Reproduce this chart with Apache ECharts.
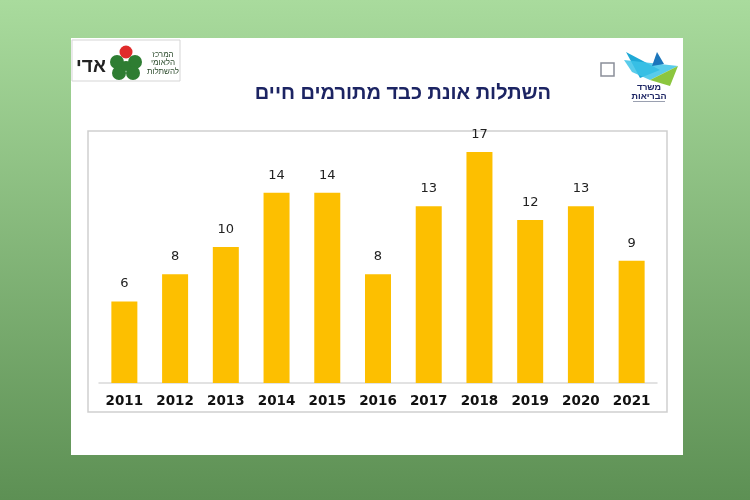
<!DOCTYPE html>
<html><head><meta charset="utf-8">
<script src="https://cdn.jsdelivr.net/npm/echarts@6/dist/echarts.min.js"></script>
<style>html,body{margin:0;padding:0;}#c{width:750px;height:500px;}</style>
</head><body><div id="c"></div>
<script>
const categories = ['2011','2012','2013','2014','2015','2016','2017','2018','2019','2020','2021'];
const values = [6, 8, 10, 14, 14, 8, 13, 17, 12, 13, 9];
const titleText = 'השתלות אונת כבד מתורמים חיים';

const chart = echarts.init(document.getElementById('c'), null, {renderer:'canvas'});
chart.setOption({
  animation: false,
  backgroundColor: new echarts.graphic.LinearGradient(0,0,0,1,[{offset:0,color:'#A9DB9D'},{offset:1,color:'#5D9054'}]),
  title: {
    text: titleText, left: 398, top: 78, textAlign: 'center',
    textStyle: {fontFamily: 'Liberation Sans', fontWeight: 'bold', fontSize: 20, color: '#1C2463'}
  },
  graphic: [
    {type:'rect', z:-10, shape:{x:71,y:38,width:612,height:417}, style:{fill:'#ffffff'}},
    {type:'rect', z:-9, shape:{x:88,y:131,width:579,height:281}, style:{fill:'none', stroke:'#CFCFCF', lineWidth:1.5}},
    // left logo
    {type:'rect', shape:{x:72,y:40,width:108,height:41}, style:{fill:'#fff', stroke:'#D5D5D5', lineWidth:1}},
    {type:'text', style:{text:'אדי', x:91, y:67, fontSize:19, fontWeight:'bold', fontFamily:'Liberation Sans', fill:'#222', textAlign:'center', textVerticalAlign:'middle'}},
    {type:'circle', shape:{cx:126,cy:52,r:6.5}, style:{fill:'#E02B2B'}},
    {type:'circle', shape:{cx:117,cy:62,r:7}, style:{fill:'#2E7D32'}},
    {type:'circle', shape:{cx:135,cy:62,r:7}, style:{fill:'#2E7D32'}},
    {type:'circle', shape:{cx:119,cy:73,r:7}, style:{fill:'#2E7D32'}},
    {type:'circle', shape:{cx:133,cy:73,r:7}, style:{fill:'#2E7D32'}},
    {type:'circle', shape:{cx:126,cy:66,r:5}, style:{fill:'#2E7D32'}},
    {type:'text', style:{text:'המרכז\nהלאומי\nלהשתלות', x:163, y:63, fontSize:8, lineHeight:8.5, fontFamily:'Liberation Sans', fill:'#2b4a2b', textAlign:'center', textVerticalAlign:'middle'}},
    // right logo
    {type:'rect', shape:{x:601,y:63,width:13,height:13}, style:{fill:'#fff', stroke:'#8a8f99', lineWidth:1.5}},
    {type:'polygon', shape:{points:[[626,52],[660,70],[640,78]]}, style:{fill:'#1FA9D6'}},
    {type:'polygon', shape:{points:[[624,60],[678,66],[650,80],[632,72]]}, style:{fill:'#3CC3E8', opacity:0.85}},
    {type:'polygon', shape:{points:[[650,80],[678,66],[670,86]]}, style:{fill:'#8CC63F'}},
    {type:'polygon', shape:{points:[[657,52],[664,64],[652,66]]}, style:{fill:'#1B75BB'}},
    {type:'text', style:{text:'משרד\nהבריאות', x:649, y:92, fontSize:9, lineHeight:8.5, fontWeight:'bold', fontFamily:'Liberation Sans', fill:'#1C2463', textAlign:'center', textVerticalAlign:'middle'}},
    {type:'rect', shape:{x:633,y:101,width:32,height:1}, style:{fill:'#9aa0b0'}}
  ],
  grid: {left: 99, right: 93, top: 152, bottom: 117, containLabel: false},
  xAxis: {
    type: 'category', data: categories,
    axisLine: {lineStyle: {color: '#D9D9D9', width: 1.5}},
    axisTick: {show: false},
    axisLabel: {margin: 11, fontFamily: 'DejaVu Sans', fontWeight: 'bold', fontSize: 13.5, color: '#111'}
  },
  yAxis: {type: 'value', min: 0, max: 17, show: false, splitLine: {show: false}},
  series: [{
    type: 'bar', data: values, barWidth: 26,
    itemStyle: {color: '#FDBF00'},
    label: {show: true, position: 'top', distance: 11, fontFamily: 'DejaVu Sans', fontSize: 13, color: '#222'}
  }]
});
</script></body></html>
